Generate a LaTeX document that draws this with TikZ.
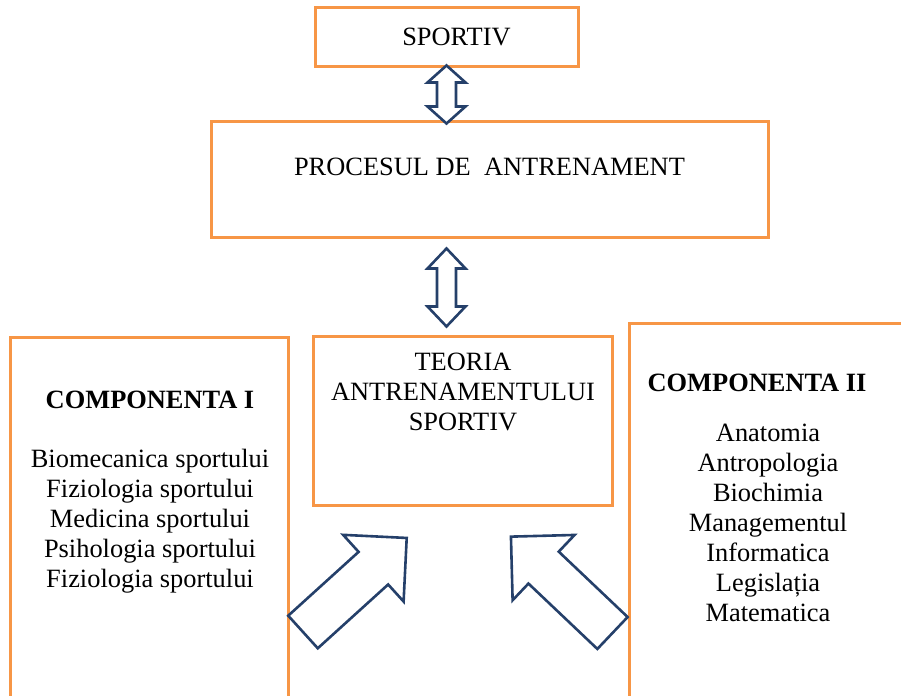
\documentclass[tikz,border=0pt]{standalone}
\usepackage{fontspec}
\setmainfont{Liberation Serif}
\usetikzlibrary{positioning,calc}
\definecolor{boxorange}{HTML}{F79646}
\definecolor{arrowblue}{HTML}{25406A}

\begin{document}
\begin{tikzpicture}[x=0.5pt,y=0.5pt,
    box/.style={draw=boxorange, line width=1.5pt, inner sep=0pt},
    hollow/.style={draw=arrowblue, line width=1.3pt, fill=white, line join=miter},
    txt/.style={align=center, inner sep=0pt, font=\fontsize{13.2}{15}\selectfont},
    head/.style={txt, font=\fontsize{13.2}{15}\selectfont\bfseries}]

    \useasboundingbox (0,0) rectangle (901,696);

    % boxes
    \node[box, minimum width=131.5pt, minimum height=29.5pt] (sportiv) at (446.5,658.5) {};
    \node[txt] (sportivtxt) at (456.5,659) {SPORTIV};
    \node[box, minimum width=278.5pt, minimum height=58pt] (procesul) at (489.5,516) {};
    \node[txt] (procesultxt) at (489.5,529) {PROCESUL DE\ \ ANTRENAMENT};
    \node[box, minimum width=149.5pt, minimum height=84.5pt] (teoria) at (462.5,274.5) {};
    \node[txt] (teoriatxt) at (463,304) {TEORIA\\ANTRENAMENTULUI\\SPORTIV};

    % the two components, open at the page edge
    \draw[box] (10,0) -- (10,358) -- (288,358) -- (288,0);
    \draw[box] (629,0) -- (629,372) -- (901,372);
    \node[head] (compI) at (150,296) {COMPONENTA I};
    \node[txt] (compIlist) at (150,174.5) {Biomecanica sportului\\Fiziologia sportului\\Medicina sportului\\Psihologia sportului\\Fiziologia sportului};
    \node[head] (compII) at (757,313) {COMPONENTA II};
    \node[txt] (compIIlist) at (768,173) {Anatomia\\Antropologia\\Biochimia\\Managementul\\Informatica\\Legislația\\Matematica};

    % double arrows between the boxes
    \coordinate (dA) at ($(sportiv.south)!0.5!(sportiv.south|-procesul.north)$);
    \coordinate (dB) at ($(procesul.south-|dA)!0.5!(teoria.north-|dA)$);
    \foreach \c/\h/\k in {dA/29/17, dB/39/20}{
        \draw[hollow, shift={(\c)}] (0,\h) -- (19,\h-\k) -- (9.5,\h-\k) -- (9.5,\k-\h) -- (19,\k-\h) -- (0,-\h)
            -- (-19,\k-\h) -- (-9.5,\k-\h) -- (-9.5,\h-\k) -- (-19,\h-\k) -- cycle;
    }

    % block arrows from the components
    \coordinate (tailI) at (303,64);
    \coordinate (tailII) at (612.5,63);
    \foreach \c/\a in {tailI/42.2, tailII/136.5}{
        \draw[hollow, shift={(\c)}, rotate=\a] (0,-22) -- (95,-22) -- (95,-45) -- (140,0) -- (95,45) -- (95,22) -- (0,22) -- cycle;
    }
\end{tikzpicture}
\end{document}
